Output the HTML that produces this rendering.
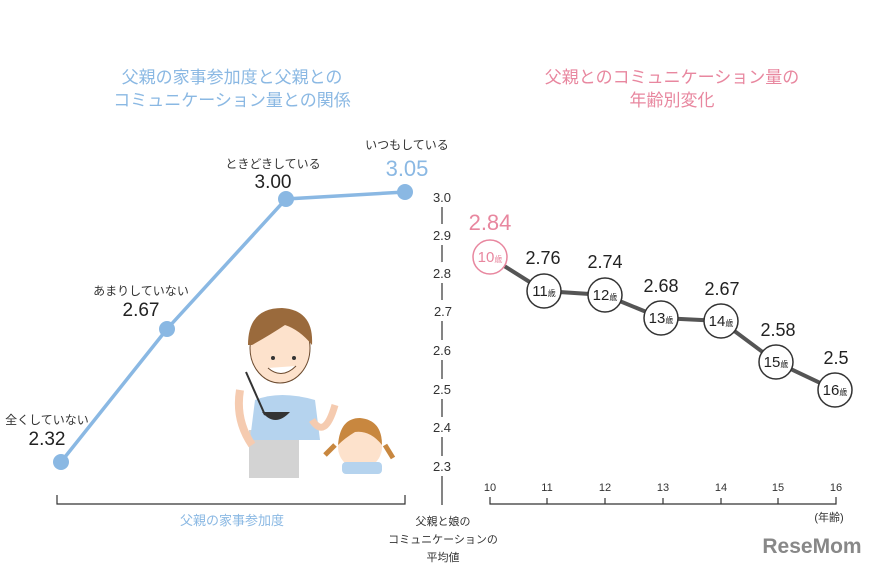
<!DOCTYPE html>
<html><head><meta charset="utf-8"><style>
body{margin:0;background:#fff;}
svg text{font-family:"Liberation Sans","Noto Sans CJK JP",sans-serif;}
</style></head><body>
<svg width="887" height="567" viewBox="0 0 887 567" xmlns="http://www.w3.org/2000/svg">
<g fill="#8ab8e3" font-size="17" text-anchor="middle">
<text x="232" y="83">父親の家事参加度と父親との</text>
<text x="232" y="106">コミュニケーション量との関係</text>
</g>
<g fill="#e8879f" font-size="17" text-anchor="middle">
<text x="672" y="83">父親とのコミュニケーション量の</text>
<text x="672" y="106">年齢別変化</text>
</g>
<g>
<rect x="249" y="430" width="50" height="48" fill="#d3d3d3"/>
<path d="M255 400 Q280 390 315 400 L320 440 L250 440 Z" fill="#b5d3ee"/>
<path d="M240 390 Q235 420 252 445" stroke="#f5cbb0" stroke-width="8" fill="none"/>
<path d="M312 420 Q325 440 335 405" stroke="#f5cbb0" stroke-width="7" fill="none"/>
<ellipse cx="280" cy="348" rx="30" ry="35" fill="#fde2cc" stroke="#6b4a2e" stroke-width="1"/>
<path d="M248 345 Q248 308 282 308 Q314 310 312 345 Q300 330 285 325 Q270 335 252 345Z" fill="#9a6a3c"/>
<path d="M268 368 Q282 380 296 366" stroke="#6b4a2e" fill="#fff"/>
<circle cx="273" cy="358" r="2" fill="#333"/><circle cx="294" cy="358" r="2" fill="#333"/>
<line x1="246" y1="372" x2="265" y2="415" stroke="#333" stroke-width="2"/>
<path d="M262 412 Q275 428 290 412Z" fill="#333"/>
<ellipse cx="360" cy="447" rx="22" ry="22" fill="#fde2cc"/>
<path d="M338 445 Q340 418 360 418 Q382 420 382 445 Q370 430 355 432 Q345 438 338 445Z" fill="#c8873f"/>
<path d="M335 445 L325 455 M385 445 L393 458" stroke="#c8873f" stroke-width="5"/>
<rect x="342" y="462" width="40" height="12" rx="4" fill="#b5d3ee"/>
</g>
<polyline points="61,462 167,329 286,199 405,192" fill="none" stroke="#8ab8e3" stroke-width="3.5"/>
<g fill="#8ab8e3"><circle cx="61" cy="462" r="8"/><circle cx="167" cy="329" r="8"/><circle cx="286" cy="199" r="8"/><circle cx="405" cy="192" r="8"/></g>
<g font-size="12" fill="#333" text-anchor="middle">
<text x="47" y="424">全くしていない</text>
<text x="141" y="295">あまりしていない</text>
<text x="273" y="168">ときどきしている</text>
<text x="407" y="149">いつもしている</text>
</g>
<g font-size="19" fill="#222" text-anchor="middle">
<text x="47" y="445">2.32</text>
<text x="141" y="316">2.67</text>
<text x="273" y="188">3.00</text>
</g>
<text x="407" y="176" font-size="22" fill="#8ab8e3" text-anchor="middle">3.05</text>
<path d="M57 495 V504 H405 V495" fill="none" stroke="#333" stroke-width="1.2"/>
<text x="232" y="525" font-size="13" fill="#8ab8e3" text-anchor="middle">父親の家事参加度</text>
<g font-size="13" fill="#333" text-anchor="middle">
<text x="442" y="202">3.0</text><text x="442" y="240">2.9</text><text x="442" y="278">2.8</text><text x="443" y="316">2.7</text>
<text x="442" y="355">2.6</text><text x="442" y="394">2.5</text><text x="442" y="432">2.4</text><text x="442" y="471">2.3</text>
</g>
<g stroke="#333" stroke-width="1.2">
<line x1="442" y1="207" x2="442" y2="224"/><line x1="442" y1="245" x2="442" y2="262"/><line x1="442" y1="283" x2="442" y2="300"/>
<line x1="442" y1="321" x2="442" y2="340"/><line x1="442" y1="360" x2="442" y2="379"/><line x1="442" y1="399" x2="442" y2="417"/>
<line x1="442" y1="437" x2="442" y2="456"/><line x1="442" y1="476" x2="442" y2="505"/>
</g>
<g font-size="11" fill="#333" text-anchor="middle">
<text x="443" y="525">父親と娘の</text><text x="443" y="543">コミュニケーションの</text><text x="443" y="561">平均値</text>
</g>
<polyline points="490,257 544,291 605,295 661,318 721,321 776,362 835,390" fill="none" stroke="#555" stroke-width="4"/>
<circle cx="490" cy="257" r="17" fill="#fff" stroke="#e8879f" stroke-width="1.5"/>
<g fill="#fff" stroke="#333" stroke-width="1.5">
<circle cx="544" cy="291" r="17"/><circle cx="605" cy="295" r="17"/><circle cx="661" cy="318" r="17"/>
<circle cx="721" cy="321" r="17"/><circle cx="776" cy="362" r="17"/><circle cx="835" cy="390" r="17"/>
</g>
<g font-size="15" text-anchor="middle" fill="#222">
<text x="490" y="262" fill="#e8879f">10<tspan font-size="8">歳</tspan></text>
<text x="544" y="296">11<tspan font-size="8">歳</tspan></text>
<text x="605" y="300">12<tspan font-size="8">歳</tspan></text>
<text x="661" y="323">13<tspan font-size="8">歳</tspan></text>
<text x="721" y="326">14<tspan font-size="8">歳</tspan></text>
<text x="776" y="367">15<tspan font-size="8">歳</tspan></text>
<text x="835" y="395">16<tspan font-size="8">歳</tspan></text>
</g>
<text x="490" y="230" font-size="22" fill="#e8879f" text-anchor="middle">2.84</text>
<g font-size="18" fill="#222" text-anchor="middle">
<text x="543" y="264">2.76</text><text x="605" y="268">2.74</text><text x="661" y="292">2.68</text>
<text x="722" y="295">2.67</text><text x="778" y="336">2.58</text><text x="836" y="364">2.5</text>
</g>
<g font-size="11" fill="#333" text-anchor="middle">
<text x="490" y="491">10</text><text x="547" y="491">11</text><text x="605" y="491">12</text><text x="663" y="491">13</text>
<text x="721" y="491">14</text><text x="778" y="491">15</text><text x="836" y="491">16</text>
<text x="829" y="521">(年齢)</text>
</g>
<path d="M490 497 V504 H836 V497 M547 498 V504 M605 498 V504 M663 498 V504 M721 498 V504 M778 498 V504" fill="none" stroke="#333" stroke-width="1.2"/>
<text x="812" y="553" font-size="21" font-weight="bold" fill="#888" text-anchor="middle">ReseMom</text>
</svg>
</body></html>
